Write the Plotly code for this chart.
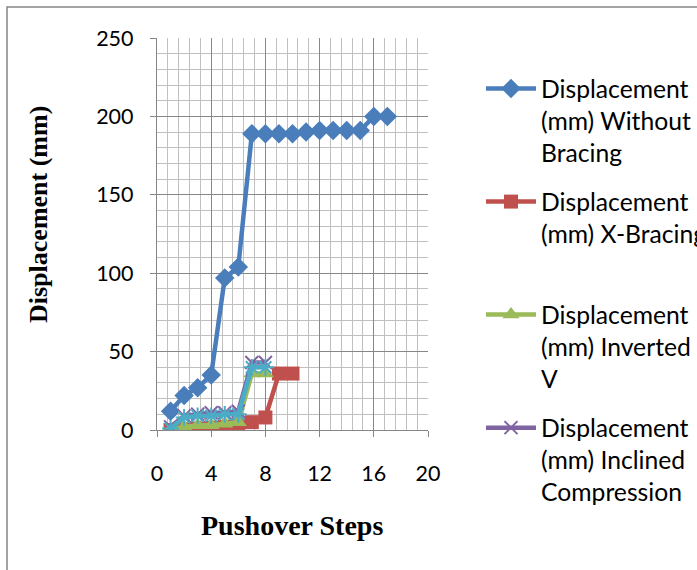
import plotly.graph_objects as go

# ---- data ----
steps_nb = [1, 2, 3, 4, 5, 6, 7, 8, 9, 10, 11, 12, 13, 14, 15, 16, 17]
disp_nb = [12, 22, 27, 35, 97, 104, 189, 189, 189, 189, 190, 191, 191, 191, 191, 200, 200]

steps_x = [1, 2, 3, 4, 5, 6, 7, 8, 9, 10]
disp_x = [0, 0.5, 1, 1.5, 2, 3, 5, 8, 36, 36]

steps_iv = [1, 2, 3, 4, 5, 6, 7, 8]
disp_iv = [0, 2, 3, 3, 4, 5, 36, 36]

steps_ic = [1, 2, 3, 4, 5, 6, 7, 8]
disp_ic = [2, 9, 10, 11, 11, 12, 43, 43]

steps_5 = [1, 2, 3, 4, 5, 6, 7, 8]
disp_5 = [1, 8, 9, 9, 10, 10, 40, 40]

names = [
    "Displacement<br>(mm) Without<br>Bracing",
    "Displacement<br>(mm) X-Bracing<br> ",
    "Displacement<br>(mm) Inverted<br>V",
    "Displacement<br>(mm) Inclined<br>Compression",
]

x_ticks = [0, 4, 8, 12, 16, 20]
y_ticks = [0, 50, 100, 150, 200, 250]

BLUE = "#4A7EBB"
RED = "#C0504D"
GREEN = "#9BBB59"
PURPLE = "#8064A2"
CYAN = "#4BACC6"

fig = go.Figure()
fig.add_trace(go.Scatter(x=steps_nb, y=disp_nb, name=names[0], legendgroup="a",
                         mode="lines+markers", line=dict(color=BLUE, width=4.5),
                         marker=dict(symbol="diamond", size=15, color=BLUE)))
fig.add_trace(go.Scatter(x=steps_x, y=disp_x, name=names[1], legendgroup="b",
                         mode="lines+markers", line=dict(color=RED, width=4.5),
                         marker=dict(symbol="square", size=14, color=RED)))
fig.add_trace(go.Scatter(x=steps_iv, y=disp_iv, name=names[2], legendgroup="c",
                         mode="lines+markers", line=dict(color=GREEN, width=4.5),
                         marker=dict(symbol="triangle-up", size=15, color=GREEN)))
fig.add_trace(go.Scatter(x=steps_ic, y=disp_ic, name=names[3], legendgroup="d",
                         mode="lines+markers", line=dict(color=PURPLE, width=4.5),
                         marker=dict(symbol="x-thin", size=13, color=PURPLE,
                                     line=dict(color=PURPLE, width=2))))
fig.add_trace(go.Scatter(x=steps_5, y=disp_5, name="Displacement", showlegend=False,
                         mode="lines+markers", line=dict(color=CYAN, width=4.5),
                         marker=dict(symbol="asterisk", size=14, color=CYAN,
                                     line=dict(color=CYAN, width=2))))

# chart border
fig.add_shape(type="rect", xref="paper", yref="paper",
              x0=-0.5535, x1=2.2, y0=-0.5, y1=1.079,
              line=dict(color="#868686", width=1.5), fillcolor="rgba(0,0,0,0)", layer="below")

axis_common = dict(showline=True, linecolor="#868686", linewidth=1.3,
                   ticks="outside", ticklen=6, tickcolor="#868686", tickwidth=1.3,
                   gridcolor="#878787", gridwidth=1.2, zeroline=False,
                   tickfont=dict(family="Lato", size=21.5, color="#000000"))

fig.update_xaxes(range=[0, 20], tickvals=x_ticks, ticktext=[str(v) for v in x_ticks],
                 minor=dict(dtick=0.8, tick0=0, showgrid=True, gridcolor="#C0C0C0", gridwidth=1.2),
                 ticklabelstandoff=18, **axis_common)
fig.update_yaxes(range=[0, 250], tickvals=y_ticks, ticktext=[str(v) for v in y_ticks],
                 minor=dict(dtick=10, tick0=0, showgrid=True, gridcolor="#C0C0C0", gridwidth=1.2),
                 ticklabelstandoff=12, **axis_common)

fig.add_annotation(text="<b>Displacement (mm)</b>", xref="paper", yref="paper",
                   x=(38 - 157) / 271, y=(430 - 215) / 392, textangle=-90, showarrow=False,
                   xanchor="center", yanchor="middle",
                   font=dict(family="Liberation Serif", size=26, color="#000000"))
fig.add_annotation(text="<b>Pushover Steps</b>", xref="paper", yref="paper",
                   x=(292 - 157) / 271, y=(430 - 525) / 392, showarrow=False,
                   xanchor="center", yanchor="middle",
                   font=dict(family="Liberation Serif", size=28, color="#000000"))

fig.update_layout(
    width=697, height=570,
    margin=dict(l=157, r=269, t=38, b=140, autoexpand=False),
    paper_bgcolor="white", plot_bgcolor="white",
    showlegend=True,
    legend=dict(x=(481 - 157) / 271, y=(430 - 66) / 392, xanchor="left", yanchor="top",
                font=dict(family="Lato", size=24.7, color="#000000"),
                valign="top", tracegroupgap=13.7, itemwidth=50, maxheight=700,
                bgcolor="rgba(0,0,0,0)"),
)

fig.write_html("out.html")
